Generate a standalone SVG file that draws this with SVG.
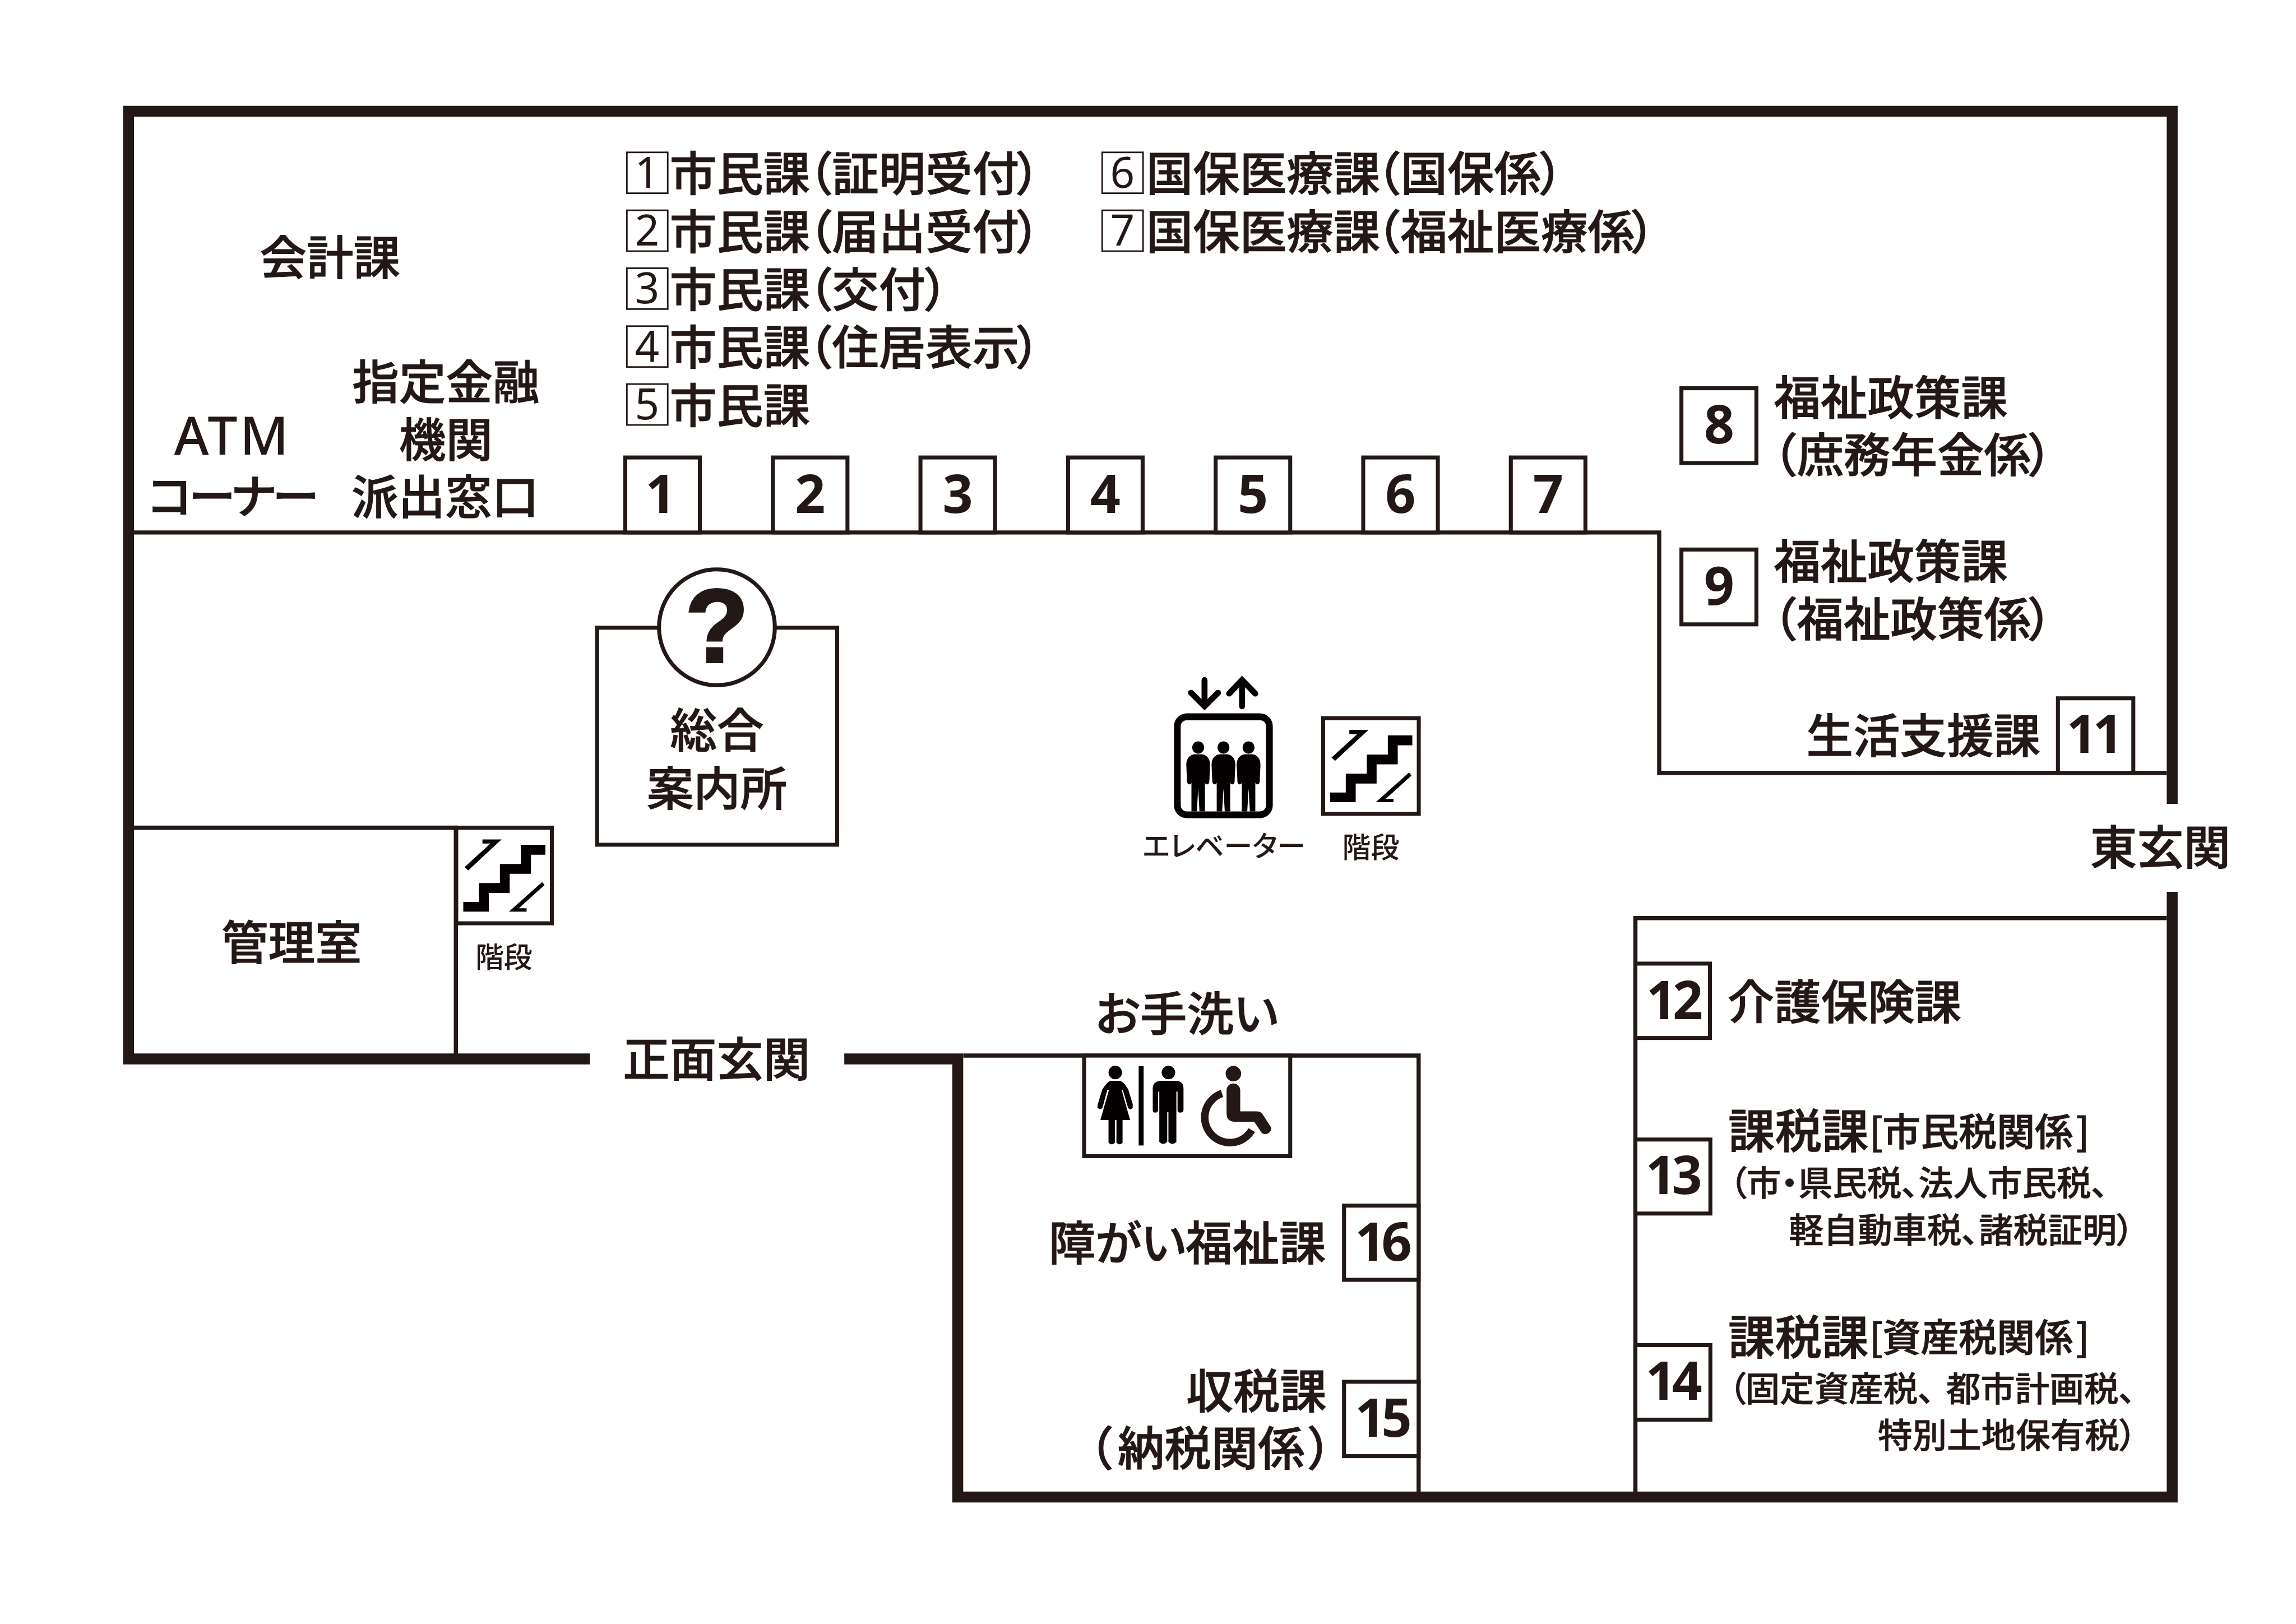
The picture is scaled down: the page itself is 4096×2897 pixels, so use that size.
<svg xmlns="http://www.w3.org/2000/svg" width="4096" height="2897" viewBox="0 0 4096 2897">
<style>
text{fill:#231815;font-family:"Noto Sans CJK JP","Noto Sans",sans-serif;font-weight:500;font-feature-settings:"palt"}
.t{font-size:118px;stroke:#231815;stroke-width:1.5px}
.m{text-anchor:middle}
.e{text-anchor:end}
.b{font-size:96px}
.s{font-size:87px;stroke:#231815;stroke-width:1px}
.x{font-size:72px}
.n{font-family:"Noto Sans",sans-serif;font-weight:700;font-size:134px;text-anchor:middle;letter-spacing:-10px}
.l{font-family:"Noto Sans",sans-serif;font-weight:400;font-size:108px;text-anchor:middle}
.wall{fill:none;stroke:#231815;stroke-width:27.5;stroke-linejoin:miter}
.thin{fill:none;stroke:#231815;stroke-width:10.5}
.box{fill:#fff;stroke:#231815;stroke-width:10}
.lbox{fill:#fff;stroke:#231815;stroke-width:4}
.ink{fill:#040000}
.dk{fill:#231815}
.arrow{fill:none;stroke:#040000;stroke-width:15}
</style>
<defs>
<g id="stair">
<rect class="box" x="5" y="5" width="241" height="241"/>
<path class="ink" d="M22.7,192.3H62V144.7H115V96.7H168V48.3H229.7V73.3H193V121.3H139.7V169.7H87V216.7H22.7Z"/>
<path class="ink" d="M71,34.7H119.3L35,112.7L26,104.3L91,45H71Z"/>
<path class="ink" d="M221.3,142L227.7,149.7L162.7,208.3H182.3V216.7H137.7Z"/>
</g>
<g id="person">
<ellipse class="ink" cx="0" cy="0" rx="15" ry="15.5"/>
<path class="ink" d="M-30,43C-30,25 -18,17 -8,17H8C18,17 30,25 30,43L28,87Q27,93 22,93Q18,93 17,88V161H3.3L0,103L-3.3,161H-17V88Q-18,93 -22,93Q-27,93 -28,87Z"/>
</g>
</defs>
<rect x="0" y="0" width="4096" height="2897" fill="#fff"/>
<g transform="scale(0.70779)">
<g id="connectors">
<path class="wall" d="M5475,2026V280.5H324V2669H1487"/>
<path class="wall" d="M2128,2669H2414V3773H5475V2248"/>
<path class="thin" d="M337,1342H4182V1948H5461"/>
<path class="thin" d="M5461,2314H4122V3760"/>
<path class="thin" d="M337,2086H1149V2669"/>
<path class="thin" d="M2428,2660.5H3575.6V3760"/>
</g>
<g id="legend">
<rect class="lbox" x="1580" y="384" width="103" height="103"/><text class="l" x="1631" y="473">1</text>
<text class="t" y="481"><tspan x="1688">市民課</tspan><tspan x="2037">（</tspan><tspan x="2097">証明受付</tspan><tspan x="2563">）</tspan></text>
<rect class="lbox" x="1580" y="530" width="103" height="103"/><text class="l" x="1631" y="619">2</text>
<text class="t" y="627"><tspan x="1688">市民課</tspan><tspan x="2037">（</tspan><tspan x="2097">届出受付</tspan><tspan x="2563">）</tspan></text>
<rect class="lbox" x="1580" y="676" width="103" height="103"/><text class="l" x="1631" y="765">3</text>
<text class="t" y="773"><tspan x="1688">市民課</tspan><tspan x="2037">（</tspan><tspan x="2097">交付</tspan><tspan x="2331">）</tspan></text>
<rect class="lbox" x="1580" y="822" width="103" height="103"/><text class="l" x="1631" y="911">4</text>
<text class="t" y="919"><tspan x="1688">市民課</tspan><tspan x="2037">（</tspan><tspan x="2097">住居表示</tspan><tspan x="2563">）</tspan></text>
<rect class="lbox" x="1580" y="968" width="103" height="103"/><text class="l" x="1631" y="1057">5</text>
<text class="t" x="1688" y="1065">市民課</text>
<rect class="lbox" x="2778" y="384" width="103" height="103"/><text class="l" x="2829" y="473">6</text>
<text class="t" y="481"><tspan x="2889">国保医療課</tspan><tspan x="3469">（</tspan><tspan x="3530">国保係</tspan><tspan x="3881">）</tspan></text>
<rect class="lbox" x="2778" y="530" width="103" height="103"/><text class="l" x="2829" y="619">7</text>
<text class="t" y="627"><tspan x="2889">国保医療課</tspan><tspan x="3469">（</tspan><tspan x="3530">福祉医療係</tspan><tspan x="4113">）</tspan></text>
</g>
<g id="kaikei"><text class="t" x="655" y="693">会計課</text></g>
<g id="shitei"><text class="t m" x="1124" y="1006">指定金融</text><text class="t m" x="1124" y="1152">機関</text><text class="t m" x="1122" y="1296">派出窓口</text></g>
<g id="atm"><text class="m" x="586" y="1146" style="font-family:'Noto Sans',sans-serif;font-size:134px;font-weight:500;letter-spacing:6px">ATM</text><text class="t m" x="584" y="1294" style="letter-spacing:-9px">コーナー</text></g>
<g id="c1"><rect class="box" x="1576" y="1153" width="188" height="189"/><text class="n" x="1660" y="1293">1</text></g>
<g id="c2"><rect class="box" x="1948" y="1153" width="188" height="189"/><text class="n" x="2037" y="1293">2</text></g>
<g id="c3"><rect class="box" x="2320" y="1153" width="188" height="189"/><text class="n" x="2409" y="1293">3</text></g>
<g id="c4"><rect class="box" x="2692" y="1153" width="188" height="189"/><text class="n" x="2781" y="1293">4</text></g>
<g id="c5"><rect class="box" x="3064" y="1153" width="188" height="189"/><text class="n" x="3153" y="1293">5</text></g>
<g id="c6"><rect class="box" x="3436" y="1153" width="188" height="189"/><text class="n" x="3525" y="1293">6</text></g>
<g id="c7"><rect class="box" x="3808" y="1153" width="188" height="189"/><text class="n" x="3897" y="1293">7</text></g>
<g id="c8"><rect class="box" x="4238" y="978.5" width="189" height="188.5"/><text class="n" x="4328" y="1117">8</text>
<text class="t" x="4471" y="1045">福祉政策課</text>
<text class="t" y="1190"><tspan x="4468">（</tspan><tspan x="4529">庶務年金係</tspan><tspan x="5114">）</tspan></text></g>
<g id="c9"><rect class="box" x="4238" y="1385" width="189" height="188.6"/><text class="n" x="4328" y="1524">9</text>
<text class="t" x="4471" y="1458">福祉政策課</text>
<text class="t" y="1603"><tspan x="4468">（</tspan><tspan x="4529">福祉政策係</tspan><tspan x="5114">）</tspan></text></g>
<g id="c11"><rect class="box" x="5187" y="1760" width="190" height="188"/><text class="n" x="5275" y="1898">11</text>
<text class="t" x="4553" y="1898">生活支援課</text></g>
<g id="c12"><rect class="box" x="4122" y="2428.6" width="188" height="187.5"/><text class="n" x="4216" y="2568">12</text>
<text class="t" x="4354" y="2568">介護保険課</text></g>
<g id="c13"><rect class="box" x="4122" y="2872" width="189" height="186.5"/><text class="n" x="4214" y="3009">13</text>
<text class="t" y="2894"><tspan x="4356">課税課</tspan><tspan class="b" x="4712" y="2888">[</tspan><tspan class="b" x="4745" y="2888">市民税関係</tspan><tspan class="b" x="5232" y="2888">]</tspan></text>
<text class="s" y="3014"><tspan x="4359">（</tspan><tspan x="4402">市</tspan><tspan x="4489">・</tspan><tspan x="4532">県民税、</tspan><tspan x="4836">法人市民税、</tspan></text>
<text class="s" x="4509" y="3132">軽自動車税、諸税証明）</text></g>
<g id="c14"><rect class="box" x="4122" y="3390" width="189" height="188"/><text class="n" x="4214" y="3528">14</text>
<text class="t" y="3413"><tspan x="4356">課税課</tspan><tspan class="b" x="4712" y="3407">[</tspan><tspan class="b" x="4745" y="3407">資産税関係</tspan><tspan class="b" x="5232" y="3407">]</tspan></text>
<text class="s" y="3532"><tspan x="4357">（</tspan><tspan x="4399">固定資産税、</tspan><tspan x="4905">都市計画税、</tspan></text>
<text class="s" x="4733" y="3649">特別土地保有税）</text></g>
<g id="c15"><rect class="box" x="3387.6" y="3482.5" width="188" height="187.5"/><text class="n" x="3482" y="3621">15</text>
<text class="t e" x="3344" y="3549">収税課</text>
<text class="t" y="3693"><tspan x="2744">（</tspan><tspan x="2817">納税関係</tspan><tspan x="3298">）</tspan></text></g>
<g id="c16"><rect class="box" x="3387.6" y="3038.6" width="188" height="187"/><text class="n" x="3482" y="3177">16</text>
<text class="t e" x="3342" y="3176">障がい福祉課</text></g>
<g id="info"><rect class="box" x="1505" y="1582" width="605" height="547"/><circle class="box" cx="1807" cy="1581" r="146"/>
<text class="m" x="1807" y="1669" style="font-family:'Liberation Sans',sans-serif;font-weight:700;font-size:262px;stroke:#231815;stroke-width:6px">?</text>
<text class="t m" x="1807" y="1884">総合</text><text class="t m" x="1807" y="2030">案内所</text></g>
<g id="kanri"><text class="t m" x="735" y="2419">管理室</text></g>
<g id="stairs-west"><use href="#stair" x="1145" y="2081"/><text class="x m" x="1270" y="2439">階段</text></g>
<g id="stairs-center"><use href="#stair" x="3330" y="1805"/><text class="x m" x="3455" y="2162">階段</text></g>
<g id="elevator">
<rect x="2967.5" y="1806.5" width="232" height="247" rx="24" fill="none" stroke="#040000" stroke-width="17"/>
<use href="#person" x="3020" y="1884"/><use href="#person" x="3083.7" y="1884"/><use href="#person" x="3147" y="1884"/>
<path class="arrow" stroke-linecap="round" d="M3036,1714V1775"/><path class="arrow" stroke-linecap="round" d="M3002,1746L3036,1780L3070,1746"/>
<path class="arrow" stroke-linecap="round" d="M3130.6,1780V1720"/><path class="arrow" stroke-linecap="round" d="M3098,1748L3130.6,1714L3164,1748"/>
<text class="x m" x="3085" y="2159">エレベーター</text>
</g>
<g id="entrance-main"><text class="t m" x="1806" y="2713">正面玄関</text></g>
<g id="entrance-east"><text class="t m" x="5445" y="2179">東玄関</text></g>
<g id="wc"><text class="t m" x="2991" y="2598">お手洗い</text>
<rect class="box" x="2732.5" y="2660.5" width="519.5" height="253.5"/>
<ellipse class="ink" cx="2811" cy="2703" rx="17" ry="17"/>
<path class="ink" d="M2798,2724H2824L2833,2730L2843.5,2745L2855,2783V2793L2849,2796L2843.5,2793L2830,2747H2827L2848.5,2822.7H2829.4V2880Q2822,2888 2814,2880V2822.7H2810V2880Q2802,2888 2794,2880V2822.7H2773.5L2795,2747H2791L2778.5,2793L2772.7,2796L2766,2792L2767,2783L2778.5,2745L2790,2730Z"/>
<rect class="ink" x="2870" y="2687" width="12.5" height="200"/>
<ellipse class="ink" cx="2945" cy="2703" rx="17" ry="17"/>
<path class="ink" d="M2922,2724H2968Q2983,2728 2983,2742V2798Q2982,2804 2975,2804Q2968,2804 2968,2798V2751H2965V2878Q2955,2888 2945,2878V2803H2942V2878Q2932,2888 2922,2878V2751H2919V2798Q2918,2804 2912,2804Q2905.5,2804 2905.5,2798V2742Q2906,2728 2922,2724Z"/>
<ellipse class="dk" cx="3108.7" cy="2706" rx="19.5" ry="19.5"/>
<path class="dk" d="M3091.5,2748a17.25,17.25 0 0 1 34.5,0V2801H3167Q3178,2801 3183,2809L3204,2842A15,15 0 0 1 3181,2856L3161,2827H3112Q3091.5,2827 3091.5,2806Z"/>
<path d="M3080,2756A63.5,63.5 0 1 0 3155,2848" fill="none" stroke="#231815" stroke-width="19"/>
</g>
</g>
</svg>
